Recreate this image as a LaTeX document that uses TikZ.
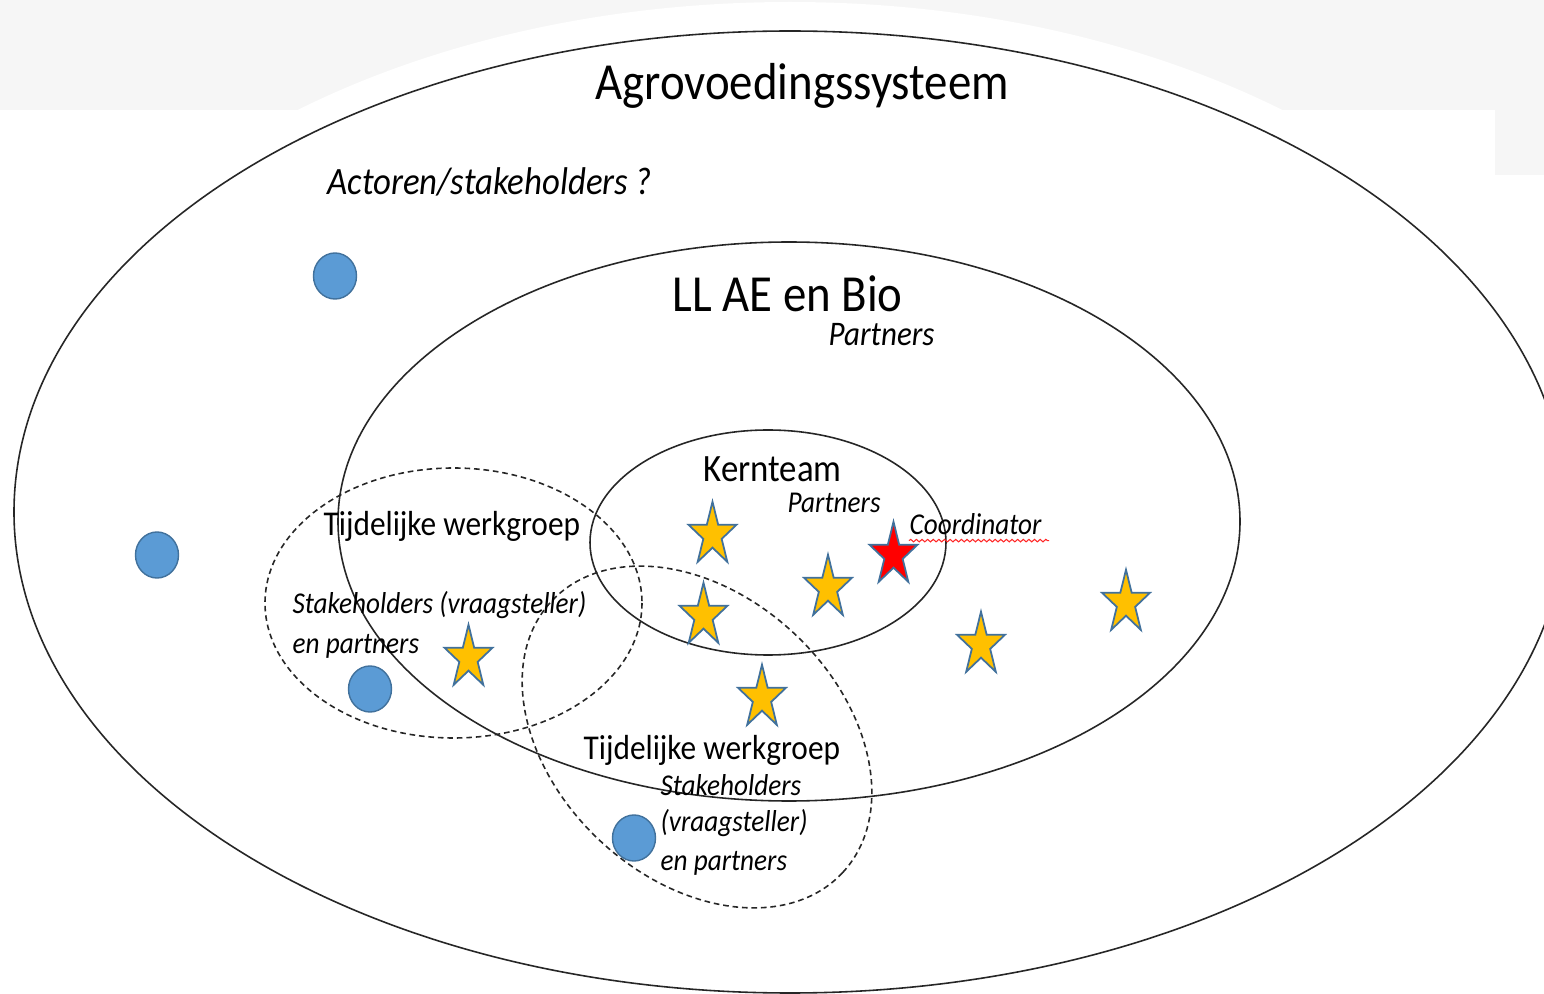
\documentclass[tikz,border=0pt]{standalone}
\usepackage{fontspec}
\setmainfont{Carlito}
\usetikzlibrary{shapes.geometric,decorations.pathmorphing}
\definecolor{gold}{HTML}{FFC000}
\definecolor{dotblue}{HTML}{5B9BD5}
\definecolor{edgeblue}{HTML}{41719C}
\definecolor{bggray}{HTML}{F6F6F6}
\begin{document}
\begin{tikzpicture}[x=0.01cm,y=-0.01cm,
  ring/.style={draw=black!85, line width=0.45pt},
  dring/.style={draw=black!85, line width=0.45pt, dash pattern=on 1.6pt off 1.1pt},
  dot/.style={ellipse, fill=dotblue, draw=edgeblue, line width=0.4pt, minimum width=0.43cm, minimum height=0.46cm, inner sep=0pt},
  gstar/.style={star, star points=5, star point ratio=2.618, minimum size=0.664cm, inner sep=0pt, fill=gold, draw=edgeblue, line width=0.5pt, xscale=0.76, transform shape},
  rstar/.style={gstar, fill=red},
  txt/.style={inner sep=0pt, xscale=0.9, transform shape},
  lbl/.style={txt, anchor=base west},
  title/.style={txt, anchor=base, font=\fontsize{14.8}{17}\selectfont},
  head/.style={lbl, font=\fontsize{9.9}{12}\selectfont},
  note/.style={lbl, font=\fontsize{8.6}{10.5}\selectfont\itshape}
]
\useasboundingbox (0,0) rectangle (1544,994);
\clip (0,0) rectangle (1544,994);
% background shading
\fill[bggray] (0,0) rectangle (1544,110);
\fill[bggray] (1495,0) rectangle (1544,175);
\fill[white] (790,512) ellipse [x radius=800, y radius=510];

% rings
\draw[ring] (790,512) ellipse [x radius=776, y radius=481];
\draw[ring] (789,521.5) ellipse [x radius=451, y radius=279.5];
\draw[ring] (768,542.5) ellipse [x radius=178, y radius=112.5];
\draw[dring] (453.5,603) ellipse [x radius=188.5, y radius=135];
\begin{scope}[shift={(697,737)}, rotate=-43]
  \draw[dring] (0,0) ellipse [x radius=199, y radius=142];
\end{scope}

% texts
\node[title] (agro) at (802,100) {Agrovoedingssysteem};
\node[lbl, font=\fontsize{11}{13}\selectfont\itshape] (actoren) at (327,195) {Actoren/stakeholders ?};
\node[title] (llae) at (787.5,312) {LL AE en Bio};
\node[lbl, font=\fontsize{9.8}{12}\selectfont\itshape] (partll) at (828,346) {Partners};
\node[lbl, font=\fontsize{11}{13}\selectfont] (kern) at (703,482) {Kernteam};
\node[note] (partk) at (787,513) {Partners};
\node[note] (coord) at (909,535) {Coordinator};
\draw[red!85, line width=0.3pt, decorate, decoration={snake, amplitude=0.35pt, segment length=1.6pt}]
  ([yshift=-1.6pt]coord.base west) -- ([yshift=-1.6pt, xshift=2pt]coord.base east);

\node[head] (tw1) at (323,536) {Tijdelijke werkgroep};
\node[note] (sh1) at (292,614) {Stakeholders (vraagsteller)};
\node[note] (ep1) at (292,653) {en partners};

\node[head] (tw2) at (583,760) {Tijdelijke werkgroep};
\node[note] (sh2) at (660,795) {Stakeholders};
\node[note] (vs2) at (660,832) {(vraagsteller)};
\node[note] (ep2) at (660,871) {en partners};

% actors (blue dots)
\node[dot] (d1) at (335,276) {};
\node[dot] (d2) at (157,555) {};
\node[dot] (d3) at (370,689) {};
\node[dot] (d4) at (634,838) {};

% partners (stars)
\node[gstar] (s1) at (712.5,535) {};
\node[gstar] (s2) at (828,588) {};
\node[gstar] (s3) at (703.5,616) {};
\node[gstar] (s4) at (468.5,658) {};
\node[gstar] (s5) at (762,698) {};
\node[gstar] (s6) at (981,645) {};
\node[gstar] (s7) at (1126,603) {};
\node[rstar] (sc) at (893.5,555) {};
\end{tikzpicture}
\end{document}
